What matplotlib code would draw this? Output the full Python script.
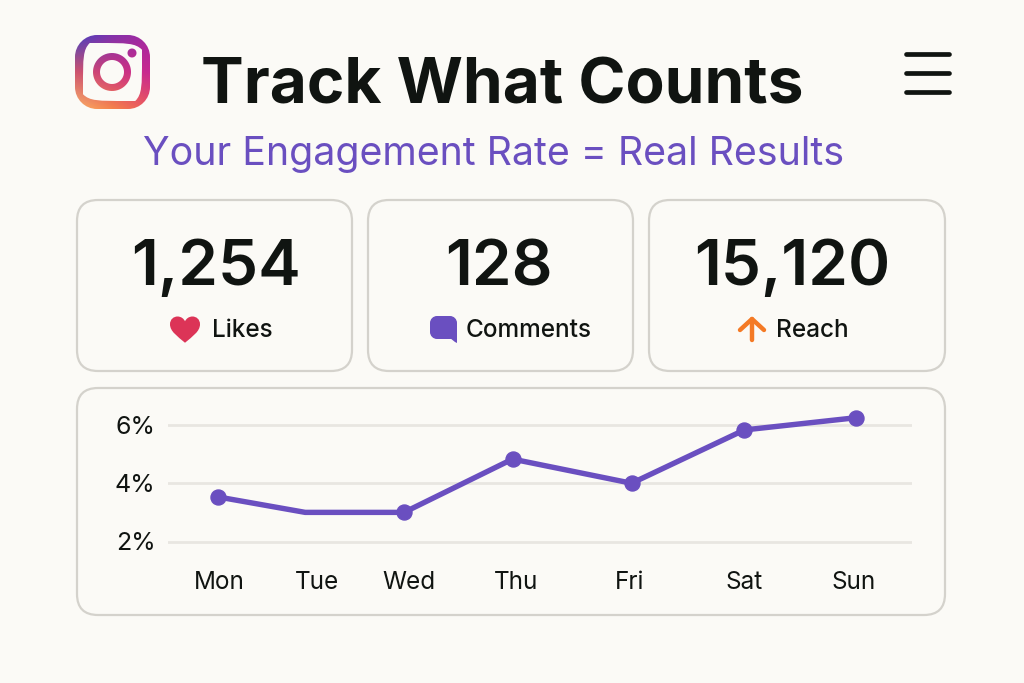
"""Engagement dashboard card: header, three stat tiles and a weekly rate line."""

import matplotlib
matplotlib.use("Agg")
import matplotlib.pyplot as plt
import numpy as np
from matplotlib.patches import FancyBboxPatch, PathPatch
from matplotlib.path import Path

# chart data, x is in days after Monday
days = ["Mon", "Tue", "Wed", "Thu", "Fri", "Sat", "Sun"]
day_ticks = [0.01, 0.93, 1.80, 2.80, 3.87, 4.95, 5.98]
point_x = [0.0, 0.82, 1.75, 2.77, 3.89, 4.95, 6.0]
engagement = [3.53, 3.0, 3.0, 4.83, 4.0, 5.83, 6.25]
rate_ticks = [2, 4, 6]

stat_values = ["1,254", "128", "15,120"]
stat_labels = ["Likes", "Comments", "Reach"]

BG = "#fbfaf6"
INK = "#101411"
PURPLE = "#6a4fc0"
BORDER = "#d4d2cc"
GRID = "#e8e6e1"
W, H = 1024, 683

plt.rcParams["font.family"] = ["Inter", "DejaVu Sans"]

fig = plt.figure(figsize=(W / 100, H / 100), dpi=100, facecolor=BG)
page = fig.add_axes([0, 0, 1, 1])
page.set_xlim(0, W)
page.set_ylim(H, 0)
page.axis("off")


def rounded_rect_path(x0, y0, x1, y1, r):
    k = 0.45 * r
    verts = [
        (x0 + r, y0), (x1 - r, y0),
        (x1 - k, y0), (x1, y0 + k), (x1, y0 + r),
        (x1, y1 - r),
        (x1, y1 - k), (x1 - k, y1), (x1 - r, y1),
        (x0 + r, y1),
        (x0 + k, y1), (x0, y1 - k), (x0, y1 - r),
        (x0, y0 + r),
        (x0, y0 + k), (x0 + k, y0), (x0 + r, y0),
    ]
    codes = [Path.MOVETO, Path.LINETO, Path.CURVE4, Path.CURVE4, Path.CURVE4,
             Path.LINETO, Path.CURVE4, Path.CURVE4, Path.CURVE4,
             Path.LINETO, Path.CURVE4, Path.CURVE4, Path.CURVE4,
             Path.LINETO, Path.CURVE4, Path.CURVE4, Path.CURVE4]
    return verts, codes


def draw_card(x0, y0, x1, y1):
    r = 21
    page.add_patch(FancyBboxPatch(
        (x0 + r, y0 + r), x1 - x0 - 2 * r, y1 - y0 - 2 * r,
        boxstyle=f"round,pad={r},rounding_size={r}",
        fc=BG, ec=BORDER, lw=1.6,
    ))


def draw_logo():
    # outline, lens and dot share one gradient through a compound clip path
    v1, c1 = rounded_rect_path(75, 35, 150, 109, 22)
    v2, _ = rounded_rect_path(83, 43, 142, 101, 15)
    v2 = v2[::-1]
    t = np.linspace(0, 2 * np.pi, 60)
    outer = list(zip(112 + 19 * np.cos(t), 72 + 19 * np.sin(t)))
    inner = list(zip(112 + 12 * np.cos(-t), 72 + 12 * np.sin(-t)))
    circ_codes = [Path.MOVETO] + [Path.LINETO] * 59
    dot = list(zip(132 + 4.5 * np.cos(t), 53 + 4.5 * np.sin(t)))
    clip = Path(v1 + v2 + outer + inner + dot, c1 + c1 + circ_codes * 3)

    # three rows of three colours, top to bottom
    stops = np.array([
        [[72, 66, 190], [130, 50, 170], [165, 40, 160]],
        [[205, 85, 110], [205, 55, 125], [200, 40, 145]],
        [[250, 175, 105], [245, 130, 75], [235, 85, 95]],
    ], dtype=float) / 255
    grid = np.linspace(0, 2, 80)
    img = np.zeros((80, 80, 3))
    for ch in range(3):
        for i, gy in enumerate(grid):
            row = [np.interp(gy, [0, 1, 2], stops[:, j, ch]) for j in range(3)]
            img[i, :, ch] = np.interp(grid, [0, 1, 2], row)
    im = page.imshow(img, extent=(75, 150, 109, 35), aspect="auto", zorder=3)
    im.set_clip_path(PathPatch(clip, transform=page.transData))
    page.set_xlim(0, W)
    page.set_ylim(H, 0)


def draw_heart(cx, cy):
    s = 15
    verts = [(0, 0.85), (-0.5, 0.42), (-1.0, 0.1), (-1.0, -0.38),
             (-1.0, -0.72), (-0.75, -0.9), (-0.5, -0.9),
             (-0.25, -0.9), (-0.08, -0.75), (0, -0.58),
             (0.08, -0.75), (0.25, -0.9), (0.5, -0.9),
             (0.75, -0.9), (1.0, -0.72), (1.0, -0.38),
             (1.0, 0.1), (0.5, 0.42), (0, 0.85)]
    codes = [Path.MOVETO] + [Path.CURVE4] * 18
    pts = [(cx + s * a, cy + s * b) for a, b in verts]
    page.add_patch(PathPatch(Path(pts, codes), fc="#dc3457", ec="none", zorder=3))


def draw_bubble(x0, y0):
    verts, codes = rounded_rect_path(x0, y0, x0 + 27, y0 + 23, 7)
    page.add_patch(PathPatch(Path(verts, codes), fc=PURPLE, ec="none", zorder=3))
    tail = [(x0 + 20, y0 + 22), (x0 + 27, y0 + 16), (x0 + 27, y0 + 27), (x0 + 25, y0 + 26)]
    page.add_patch(plt.Polygon(tail, fc=PURPLE, ec="none", zorder=3))


def draw_arrow(cx, top, bottom):
    color = "#f47a25"
    page.plot([cx, cx], [top, bottom], color=color, lw=3.2, solid_capstyle="round")
    page.plot([cx - 12, cx, cx + 12], [top + 11, top, top + 11], color=color, lw=3.2,
              solid_capstyle="round", solid_joinstyle="round")


# header
draw_logo()
page.text(502.5, 103, "Track What Counts", ha="center", va="baseline",
          fontsize=46, fontweight="bold", color=INK)
page.text(494, 165, "Your Engagement Rate = Real Results", ha="center", va="baseline",
          fontsize=28.3, color=PURPLE)
for y in [54, 73, 92]:
    page.plot([906, 949], [y, y], color=INK, lw=3.4, solid_capstyle="round")

# stat tiles
draw_card(77, 200, 352, 371)
draw_card(368, 200, 633, 371)
draw_card(649, 200, 945, 371)
draw_card(77, 388, 945, 615)

for x, value in zip([216, 499, 792], stat_values):
    page.text(x, 285, value, ha="center", va="baseline", fontsize=46,
              fontweight="semibold", color=INK)
for x, label in zip([242, 529, 812], stat_labels):
    page.text(x, 337, label, ha="center", va="baseline", fontsize=17.5,
              fontweight="medium", color=INK)
draw_heart(185, 330)
draw_bubble(430, 316)
draw_arrow(752, 319, 340)

# line chart, axes box spans the gridlines horizontally
px_per_unit = (541.5 - 425) / 4
y_low, y_high = 1.5, 6.5
top_px = 541.5 - (y_high - 2) * px_per_unit
bottom_px = 541.5 + (2 - y_low) * px_per_unit
x_left = (168 - 218) / 106.33
x_right = (912 - 218) / 106.33
ax = fig.add_axes([168 / W, 1 - bottom_px / H, (912 - 168) / W, (bottom_px - top_px) / H])
ax.patch.set_alpha(0)
ax.set_xlim(x_left, x_right)
ax.set_ylim(y_low, y_high)
for spine in ax.spines.values():
    spine.set_visible(False)
ax.set_yticks(rate_ticks)
ax.set_yticklabels([f"{v}%" for v in rate_ticks], fontsize=18, color=INK)
ax.set_xticks(day_ticks)
ax.set_xticklabels(days, fontsize=17.5, color=INK)
ax.tick_params(axis="both", length=0)
ax.tick_params(axis="y", pad=9)
ax.tick_params(axis="x", pad=11)
ax.grid(axis="y", color=GRID, lw=2.0)
ax.set_axisbelow(True)
# the picture shows no dot on Tuesday
ax.plot(point_x, engagement, color=PURPLE, lw=3.9, marker="o", ms=10.8,
        markevery=[0, 2, 3, 4, 5, 6], solid_joinstyle="round", clip_on=False, zorder=3)

fig.savefig("out.png", dpi=100, facecolor=BG)
